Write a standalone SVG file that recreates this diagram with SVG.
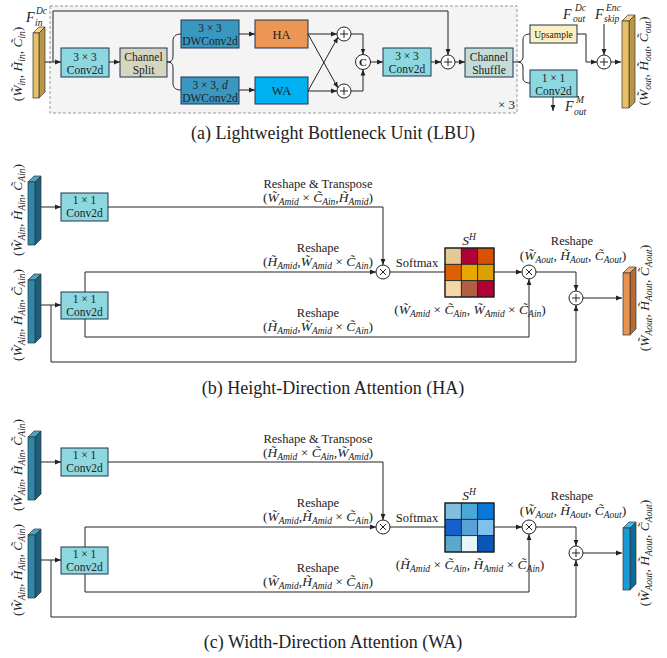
<svg xmlns="http://www.w3.org/2000/svg" width="667" height="658" viewBox="0 0 667 658">
<defs>
<marker id="ah" viewBox="0 0 10 10" refX="10" refY="5" markerWidth="6" markerHeight="6" markerUnits="userSpaceOnUse" orient="auto"><path d="M0,1 L10,5 L0,9 z" fill="#222"/></marker>
<style>
text{font-family:"Liberation Serif","DejaVu Serif",serif;fill:#222}
.bx{font-size:11.5px}
.lb{font-size:12.5px}
.m{font-size:13.5px}
.i{font-style:italic}
.s{font-size:9.5px;font-style:italic}
.f{font-size:14px;font-style:italic}
.cap{font-size:18px}
.ln{fill:none;stroke:#222;stroke-width:1}
.ar{marker-end:url(#ah)}
.box{stroke:#1e3550;stroke-width:1}
.conv{fill:#8dd7df}
.dw{fill:#3a97bf}
.op{fill:#fff;stroke:#222;stroke-width:1}
.cell{stroke:#222;stroke-width:0.8}
.bar{stroke:#333;stroke-width:0.7}
</style>
</defs>
<rect width="667" height="658" fill="#fff"/>

<!-- ================= (a) ================= -->
<g id="lbu-frame">
<rect x="50" y="6" width="467" height="107" fill="#f4f4f4" stroke="#999" stroke-dasharray="3,2"/>
<text x="515" y="109" text-anchor="end" font-size="13">× 3</text>
</g>

<g id="a-input">
<polygon class="bar" points="33,33 39,27 45,27 39,33" fill="#f3d68a"/>
<polygon class="bar" points="39,33 45,27 45,92 39,98" fill="#b8974a"/>
<rect class="bar" x="33" y="33" width="6" height="65" fill="#e8c064"/>
<text x="26" y="22" class="f">F</text>
<text x="36" y="14" class="s">Dc</text>
<text x="35" y="26" class="s">in</text>
<text class="m" transform="translate(22,64) rotate(-90)" text-anchor="middle">(<tspan class="i">W̃</tspan><tspan class="s" dy="3">in</tspan><tspan dy="-3">, </tspan><tspan class="i">H̃</tspan><tspan class="s" dy="3">in</tspan><tspan dy="-3">, </tspan><tspan class="i">C̃</tspan><tspan class="s" dy="3">in</tspan><tspan dy="-3">)</tspan></text>
</g>

<g id="a-conv1"><rect class="box conv" x="61" y="48" width="48" height="29"/><text class="bx" x="85" y="60.5" text-anchor="middle">3 × 3</text><text class="bx" x="85" y="73.5" text-anchor="middle">Conv2d</text></g>
<g id="a-split"><rect class="box" fill="#d6d6c0" x="120" y="48" width="47" height="29"/><text class="bx" x="143.5" y="60.5" text-anchor="middle">Channel</text><text class="bx" x="143.5" y="73.5" text-anchor="middle">Split</text></g>
<g id="a-dw1"><rect class="box dw" x="181" y="20" width="58" height="28"/><text class="bx" x="210" y="31.5" text-anchor="middle">3 × 3</text><text class="bx" x="210" y="44.5" text-anchor="middle">DWConv2d</text></g>
<g id="a-dw2"><rect class="box dw" x="181" y="77" width="58" height="27"/><text class="bx" x="210" y="88.5" text-anchor="middle">3 × 3, <tspan class="i">d</tspan></text><text class="bx" x="210" y="101.5" text-anchor="middle">DWConv2d</text></g>
<g id="a-ha"><rect class="box" fill="#eb9654" x="255" y="20" width="53" height="28"/><text x="281.5" y="38.5" font-size="12.5" text-anchor="middle">HA</text></g>
<g id="a-wa"><rect class="box" fill="#00b0f0" x="255" y="77" width="53" height="27"/><text x="281.5" y="95" font-size="12.5" text-anchor="middle">WA</text></g>
<g id="a-add1"><circle class="op" cx="344" cy="34" r="7"/><path class="ln" d="M340,34h8M344,30v8"/></g>
<g id="a-add2"><circle class="op" cx="344" cy="91" r="7"/><path class="ln" d="M340,91h8M344,87v8"/></g>
<g id="a-concat"><circle class="op" cx="363" cy="62" r="7.5"/><text x="363" y="66" font-size="11" font-weight="bold" text-anchor="middle">C</text></g>
<g id="a-conv2"><rect class="box conv" x="383" y="48" width="48" height="28"/><text class="bx" x="407" y="60" text-anchor="middle">3 × 3</text><text class="bx" x="407" y="73" text-anchor="middle">Conv2d</text></g>
<g id="a-add3"><circle class="op" cx="448" cy="62" r="7"/><path class="ln" d="M444,62h8M448,58v8"/></g>
<g id="a-shuffle"><rect class="box" fill="#c5dcd6" x="465" y="48" width="48" height="29"/><text class="bx" x="489" y="60.5" text-anchor="middle">Channel</text><text class="bx" x="489" y="73.5" text-anchor="middle">Shuffle</text></g>
<g id="a-upsample"><rect class="box" fill="#fdf0c0" x="530" y="25" width="47" height="18"/><text x="553.5" y="37.5" font-size="9.5" text-anchor="middle">Upsample</text></g>
<g id="a-conv3"><rect class="box conv" x="530" y="70" width="47" height="27"/><text class="bx" x="553.5" y="81.5" text-anchor="middle">1 × 1</text><text class="bx" x="553.5" y="94.5" text-anchor="middle">Conv2d</text></g>
<g id="a-add4"><circle class="op" cx="604" cy="62" r="7"/><path class="ln" d="M600,62h8M604,58v8"/></g>
<g id="a-labels">
<text x="563" y="19" class="f">F</text><text x="575" y="11" class="s">Dc</text><text x="573" y="22" class="s">out</text>
<text x="595" y="19" class="f">F</text><text x="606" y="11" class="s">Enc</text><text x="604" y="22" class="s">skip</text>
<text x="565" y="111" class="f">F</text><text x="576" y="103" class="s">M</text><text x="574" y="115" class="s">out</text>
</g>
<g id="a-output">
<polygon class="bar" points="622,21 628,15 635,15 629,21" fill="#f3d68a"/>
<polygon class="bar" points="629,21 635,15 635,102 629,108" fill="#b8974a"/>
<rect class="bar" x="622" y="21" width="7" height="87" fill="#e8c064"/>
<text class="m" transform="translate(648,61) rotate(-90)" text-anchor="middle">(<tspan class="i">W̃</tspan><tspan class="s" dy="3">out</tspan><tspan dy="-3">, </tspan><tspan class="i">H̃</tspan><tspan class="s" dy="3">out</tspan><tspan dy="-3">, </tspan><tspan class="i">C̃</tspan><tspan class="s" dy="3">out</tspan><tspan dy="-3">)</tspan></text>
</g>

<g id="a-connectors">
<path class="ln ar" d="M45,62H61"/>
<path class="ln ar" d="M53,62V11H448V55"/>
<path class="ln ar" d="M109,62H120"/>
<path class="ln" d="M167,62C172,62 173,60 173,55V41C173,36 176,34 181,34"/>
<path class="ln" d="M167,62C172,62 173,64 173,69V83C173,88 176,90 181,90"/>
<path class="ln ar" d="M239,34H255"/>
<path class="ln ar" d="M239,90H255"/>
<path class="ln ar" d="M308,34H337"/>
<path class="ln ar" d="M308,34L338,88"/>
<path class="ln ar" d="M308,91H337"/>
<path class="ln ar" d="M308,91L338,37"/>
<path class="ln ar" d="M351,34H363V54.5"/>
<path class="ln ar" d="M351,91H363V69.5"/>
<path class="ln ar" d="M370.5,62H383"/>
<path class="ln ar" d="M431,62H441"/>
<path class="ln ar" d="M455,62H465"/>
<path class="ln" d="M513,62H518C521,62 523,60 523,57V40C523,36 525,34 530,34"/>
<path class="ln" d="M518,62C521,62 523,64 523,67V78C523,81 525,83 530,83"/>
<path class="ln ar" d="M577,34H586V62H597"/>
<path class="ln ar" d="M604,24V55"/>
<path class="ln ar" d="M611,62H621"/>
<path class="ln ar" d="M553,97V111"/>
</g>
<text class="cap" x="333" y="139" text-anchor="middle">(a) Lightweight Bottleneck Unit (LBU)</text>

<!-- ================= (b) ================= -->
<g id="panel-b">
<g id="b-in1">
<polygon class="bar" points="28,182 34,176 41,176 35,182" fill="#4aa3c4"/>
<polygon class="bar" points="35,182 41,176 41,239 35,245" fill="#1d5e78"/>
<rect class="bar" x="28" y="182" width="7" height="63" fill="#2f87a9"/>
<text class="m" transform="translate(22,210) rotate(-90)" text-anchor="middle">(<tspan class="i">W̃</tspan><tspan class="s" dy="3">Ain</tspan><tspan dy="-3">, </tspan><tspan class="i">H̃</tspan><tspan class="s" dy="3">Ain</tspan><tspan dy="-3">, </tspan><tspan class="i">C̃</tspan><tspan class="s" dy="3">Ain</tspan><tspan dy="-3">)</tspan></text>
</g>
<g id="b-in2">
<polygon class="bar" points="28,280 34,274 41,274 35,280" fill="#4aa3c4"/>
<polygon class="bar" points="35,280 41,274 41,337 35,343" fill="#1d5e78"/>
<rect class="bar" x="28" y="280" width="7" height="63" fill="#2f87a9"/>
<text class="m" transform="translate(22,315) rotate(-90)" text-anchor="middle">(<tspan class="i">W̃</tspan><tspan class="s" dy="3">Ain</tspan><tspan dy="-3">, </tspan><tspan class="i">H̃</tspan><tspan class="s" dy="3">Ain</tspan><tspan dy="-3">, </tspan><tspan class="i">C̃</tspan><tspan class="s" dy="3">Ain</tspan><tspan dy="-3">)</tspan></text>
</g>
<g id="b-conv1"><rect class="box conv" x="61" y="193" width="47" height="28"/><text class="bx" x="84.5" y="204" text-anchor="middle">1 × 1</text><text class="bx" x="84.5" y="217" text-anchor="middle">Conv2d</text></g>
<g id="b-conv2"><rect class="box conv" x="61" y="292" width="47" height="27"/><text class="bx" x="84.5" y="303" text-anchor="middle">1 × 1</text><text class="bx" x="84.5" y="316" text-anchor="middle">Conv2d</text></g>
<g id="b-mul1"><circle class="op" cx="383" cy="272" r="7"/><path class="ln" d="M380,269l6,6M386,269l-6,6"/></g>
<g id="b-mul2"><circle class="op" cx="529" cy="272" r="7"/><path class="ln" d="M526,269l6,6M532,269l-6,6"/></g>
<g id="b-add"><circle class="op" cx="576" cy="298" r="7"/><path class="ln" d="M572,298h8M576,294v8"/></g>
<g id="b-matrix">
<rect class="cell" x="445" y="248" width="16.33" height="16.33" fill="#e5c896"/>
<rect class="cell" x="461.33" y="248" width="16.33" height="16.33" fill="#b00038"/>
<rect class="cell" x="477.67" y="248" width="16.33" height="16.33" fill="#d85000"/>
<rect class="cell" x="445" y="264.33" width="16.33" height="16.33" fill="#e06000"/>
<rect class="cell" x="461.33" y="264.33" width="16.33" height="16.33" fill="#e8a800"/>
<rect class="cell" x="477.67" y="264.33" width="16.33" height="16.33" fill="#dca000"/>
<rect class="cell" x="445" y="280.67" width="16.33" height="16.33" fill="#f5d8a8"/>
<rect class="cell" x="461.33" y="280.67" width="16.33" height="16.33" fill="#b06040"/>
<rect class="cell" x="477.67" y="280.67" width="16.33" height="16.33" fill="#b00038"/>
<rect x="445" y="248" width="49" height="49" fill="none" stroke="#222" stroke-width="1.2"/>
<text x="469" y="245" text-anchor="middle" font-size="13.5"><tspan class="i">S</tspan><tspan class="s" dy="-5">H</tspan></text>
</g>
<g id="b-out">
<polygon class="bar" points="623,273 629,267 636,267 630,273" fill="#f0ad78"/>
<polygon class="bar" points="630,273 636,267 636,329 630,335" fill="#b86a33"/>
<rect class="bar" x="623" y="273" width="7" height="62" fill="#e8924f"/>
<text class="m" transform="translate(649,298) rotate(-90)" text-anchor="middle">(<tspan class="i">W̃</tspan><tspan class="s" dy="3">Aout</tspan><tspan dy="-3">, </tspan><tspan class="i">H̃</tspan><tspan class="s" dy="3">Aout</tspan><tspan dy="-3">, </tspan><tspan class="i">C̃</tspan><tspan class="s" dy="3">Aout</tspan><tspan dy="-3">)</tspan></text>
</g>
<g id="b-connectors">
<path class="ln ar" d="M41,207H61"/>
<path class="ln ar" d="M108,207H383V265"/>
<path class="ln ar" d="M41,305H61"/>
<path class="ln ar" d="M51,305V362H576V305"/>
<path class="ln ar" d="M85,292V272H376"/>
<path class="ln ar" d="M85,319V337H529V279"/>
<path class="ln" d="M390,272H445"/>
<path class="ln ar" d="M494,272H522"/>
<path class="ln ar" d="M536,272H576V291"/>
<path class="ln ar" d="M583,298H622"/>
</g>
<g id="b-labels">
<text class="lb" x="318" y="188" text-anchor="middle">Reshape &amp; Transpose</text>
<text class="m" x="318" y="202" text-anchor="middle">(<tspan class="i">W̃</tspan><tspan class="s" dy="3">Amid</tspan><tspan dy="-3"> × </tspan><tspan class="i">C̃</tspan><tspan class="s" dy="3">Ain</tspan><tspan dy="-3">,</tspan><tspan class="i">H̃</tspan><tspan class="s" dy="3">Amid</tspan><tspan dy="-3">)</tspan></text>
<text class="lb" x="318" y="252" text-anchor="middle">Reshape</text>
<text class="m" x="318" y="266" text-anchor="middle">(<tspan class="i">H̃</tspan><tspan class="s" dy="3">Amid</tspan><tspan dy="-3">,</tspan><tspan class="i">W̃</tspan><tspan class="s" dy="3">Amid</tspan><tspan dy="-3"> × </tspan><tspan class="i">C̃</tspan><tspan class="s" dy="3">Ain</tspan><tspan dy="-3">)</tspan></text>
<text class="lb" x="318" y="317" text-anchor="middle">Reshape</text>
<text class="m" x="318" y="331" text-anchor="middle">(<tspan class="i">H̃</tspan><tspan class="s" dy="3">Amid</tspan><tspan dy="-3">,</tspan><tspan class="i">W̃</tspan><tspan class="s" dy="3">Amid</tspan><tspan dy="-3"> × </tspan><tspan class="i">C̃</tspan><tspan class="s" dy="3">Ain</tspan><tspan dy="-3">)</tspan></text>
<text class="lb" x="417" y="267" text-anchor="middle">Softmax</text>
<text class="m" x="470" y="314" text-anchor="middle">(<tspan class="i">W̃</tspan><tspan class="s" dy="3">Amid</tspan><tspan dy="-3"> × </tspan><tspan class="i">C̃</tspan><tspan class="s" dy="3">Ain</tspan><tspan dy="-3">, </tspan><tspan class="i">W̃</tspan><tspan class="s" dy="3">Amid</tspan><tspan dy="-3"> × </tspan><tspan class="i">C̃</tspan><tspan class="s" dy="3">Ain</tspan><tspan dy="-3">)</tspan></text>
<text class="lb" x="572" y="245" text-anchor="middle">Reshape</text>
<text class="m" x="573" y="260" text-anchor="middle">(<tspan class="i">W̃</tspan><tspan class="s" dy="3">Aout</tspan><tspan dy="-3">, </tspan><tspan class="i">H̃</tspan><tspan class="s" dy="3">Aout</tspan><tspan dy="-3">, </tspan><tspan class="i">C̃</tspan><tspan class="s" dy="3">Aout</tspan><tspan dy="-3">)</tspan></text>
</g>
</g>
<text class="cap" x="333" y="394" text-anchor="middle">(b) Height-Direction Attention (HA)</text>

<!-- ================= (c) ================= -->
<g id="panel-c" transform="translate(0,255)">
<g id="c-in1">
<polygon class="bar" points="28,182 34,176 41,176 35,182" fill="#4aa3c4"/>
<polygon class="bar" points="35,182 41,176 41,239 35,245" fill="#1d5e78"/>
<rect class="bar" x="28" y="182" width="7" height="63" fill="#2f87a9"/>
<text class="m" transform="translate(22,210) rotate(-90)" text-anchor="middle">(<tspan class="i">W̃</tspan><tspan class="s" dy="3">Ain</tspan><tspan dy="-3">, </tspan><tspan class="i">H̃</tspan><tspan class="s" dy="3">Ain</tspan><tspan dy="-3">, </tspan><tspan class="i">C̃</tspan><tspan class="s" dy="3">Ain</tspan><tspan dy="-3">)</tspan></text>
</g>
<g id="c-in2">
<polygon class="bar" points="28,280 34,274 41,274 35,280" fill="#4aa3c4"/>
<polygon class="bar" points="35,280 41,274 41,337 35,343" fill="#1d5e78"/>
<rect class="bar" x="28" y="280" width="7" height="63" fill="#2f87a9"/>
<text class="m" transform="translate(22,315) rotate(-90)" text-anchor="middle">(<tspan class="i">W̃</tspan><tspan class="s" dy="3">Ain</tspan><tspan dy="-3">, </tspan><tspan class="i">H̃</tspan><tspan class="s" dy="3">Ain</tspan><tspan dy="-3">, </tspan><tspan class="i">C̃</tspan><tspan class="s" dy="3">Ain</tspan><tspan dy="-3">)</tspan></text>
</g>
<g id="c-conv1"><rect class="box conv" x="61" y="193" width="47" height="28"/><text class="bx" x="84.5" y="204" text-anchor="middle">1 × 1</text><text class="bx" x="84.5" y="217" text-anchor="middle">Conv2d</text></g>
<g id="c-conv2"><rect class="box conv" x="61" y="292" width="47" height="27"/><text class="bx" x="84.5" y="303" text-anchor="middle">1 × 1</text><text class="bx" x="84.5" y="316" text-anchor="middle">Conv2d</text></g>
<g id="c-mul1"><circle class="op" cx="383" cy="272" r="7"/><path class="ln" d="M380,269l6,6M386,269l-6,6"/></g>
<g id="c-mul2"><circle class="op" cx="529" cy="272" r="7"/><path class="ln" d="M526,269l6,6M532,269l-6,6"/></g>
<g id="c-add"><circle class="op" cx="576" cy="298" r="7"/><path class="ln" d="M572,298h8M576,294v8"/></g>
<g id="c-matrix">
<rect class="cell" x="445" y="248" width="16.33" height="16.33" fill="#7fbfe0"/>
<rect class="cell" x="461.33" y="248" width="16.33" height="16.33" fill="#4aa8d8"/>
<rect class="cell" x="477.67" y="248" width="16.33" height="16.33" fill="#0a78d8"/>
<rect class="cell" x="445" y="264.33" width="16.33" height="16.33" fill="#1560d0"/>
<rect class="cell" x="461.33" y="264.33" width="16.33" height="16.33" fill="#5aa0d8"/>
<rect class="cell" x="477.67" y="264.33" width="16.33" height="16.33" fill="#80c0ec"/>
<rect class="cell" x="445" y="280.67" width="16.33" height="16.33" fill="#5aa8cc"/>
<rect class="cell" x="461.33" y="280.67" width="16.33" height="16.33" fill="#e8f6fc"/>
<rect class="cell" x="477.67" y="280.67" width="16.33" height="16.33" fill="#0858b8"/>
<rect x="445" y="248" width="49" height="49" fill="none" stroke="#222" stroke-width="1.2"/>
<text x="469" y="245" text-anchor="middle" font-size="13.5"><tspan class="i">S</tspan><tspan class="s" dy="-5">H</tspan></text>
</g>
<g id="c-out">
<polygon class="bar" points="623,273 629,267 636,267 630,273" fill="#4bb6e6"/>
<polygon class="bar" points="630,273 636,267 636,329 630,335" fill="#0f6a9c"/>
<rect class="bar" x="623" y="273" width="7" height="62" fill="#1b9ad6"/>
<text class="m" transform="translate(649,298) rotate(-90)" text-anchor="middle">(<tspan class="i">W̃</tspan><tspan class="s" dy="3">Aout</tspan><tspan dy="-3">, </tspan><tspan class="i">H̃</tspan><tspan class="s" dy="3">Aout</tspan><tspan dy="-3">, </tspan><tspan class="i">C̃</tspan><tspan class="s" dy="3">Aout</tspan><tspan dy="-3">)</tspan></text>
</g>
<g id="c-connectors">
<path class="ln ar" d="M41,207H61"/>
<path class="ln ar" d="M108,207H383V265"/>
<path class="ln ar" d="M41,305H61"/>
<path class="ln ar" d="M51,305V362H576V305"/>
<path class="ln ar" d="M85,292V272H376"/>
<path class="ln ar" d="M85,319V337H529V279"/>
<path class="ln" d="M390,272H445"/>
<path class="ln ar" d="M494,272H522"/>
<path class="ln ar" d="M536,272H576V291"/>
<path class="ln ar" d="M583,298H622"/>
</g>
<g id="c-labels">
<text class="lb" x="318" y="188" text-anchor="middle">Reshape &amp; Transpose</text>
<text class="m" x="318" y="202" text-anchor="middle">(<tspan class="i">H̃</tspan><tspan class="s" dy="3">Amid</tspan><tspan dy="-3"> × </tspan><tspan class="i">C̃</tspan><tspan class="s" dy="3">Ain</tspan><tspan dy="-3">,</tspan><tspan class="i">W̃</tspan><tspan class="s" dy="3">Amid</tspan><tspan dy="-3">)</tspan></text>
<text class="lb" x="318" y="252" text-anchor="middle">Reshape</text>
<text class="m" x="318" y="266" text-anchor="middle">(<tspan class="i">W̃</tspan><tspan class="s" dy="3">Amid</tspan><tspan dy="-3">,</tspan><tspan class="i">H̃</tspan><tspan class="s" dy="3">Amid</tspan><tspan dy="-3"> × </tspan><tspan class="i">C̃</tspan><tspan class="s" dy="3">Ain</tspan><tspan dy="-3">)</tspan></text>
<text class="lb" x="318" y="317" text-anchor="middle">Reshape</text>
<text class="m" x="318" y="331" text-anchor="middle">(<tspan class="i">W̃</tspan><tspan class="s" dy="3">Amid</tspan><tspan dy="-3">,</tspan><tspan class="i">H̃</tspan><tspan class="s" dy="3">Amid</tspan><tspan dy="-3"> × </tspan><tspan class="i">C̃</tspan><tspan class="s" dy="3">Ain</tspan><tspan dy="-3">)</tspan></text>
<text class="lb" x="417" y="267" text-anchor="middle">Softmax</text>
<text class="m" x="470" y="314" text-anchor="middle">(<tspan class="i">H̃</tspan><tspan class="s" dy="3">Amid</tspan><tspan dy="-3"> × </tspan><tspan class="i">C̃</tspan><tspan class="s" dy="3">Ain</tspan><tspan dy="-3">, </tspan><tspan class="i">H̃</tspan><tspan class="s" dy="3">Amid</tspan><tspan dy="-3"> × </tspan><tspan class="i">C̃</tspan><tspan class="s" dy="3">Ain</tspan><tspan dy="-3">)</tspan></text>
<text class="lb" x="572" y="245" text-anchor="middle">Reshape</text>
<text class="m" x="573" y="260" text-anchor="middle">(<tspan class="i">W̃</tspan><tspan class="s" dy="3">Aout</tspan><tspan dy="-3">, </tspan><tspan class="i">H̃</tspan><tspan class="s" dy="3">Aout</tspan><tspan dy="-3">, </tspan><tspan class="i">C̃</tspan><tspan class="s" dy="3">Aout</tspan><tspan dy="-3">)</tspan></text>
</g>
</g>
<text class="cap" x="333" y="648" text-anchor="middle">(c) Width-Direction Attention (WA)</text>
</svg>
